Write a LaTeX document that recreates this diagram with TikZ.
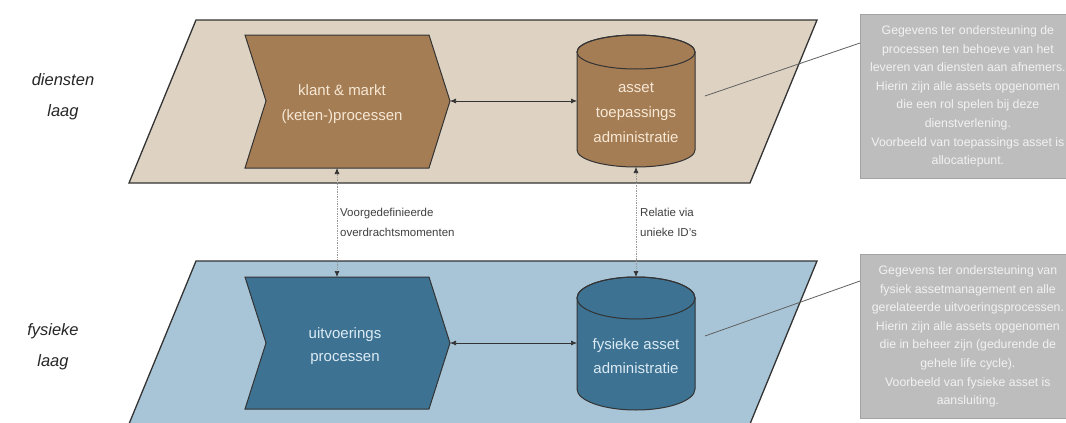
\documentclass[tikz,border=0pt]{standalone}
\usepackage{fontspec}
\setmainfont{Liberation Sans}
\usetikzlibrary{arrows.meta}
\definecolor{beigelayer}{HTML}{DED3C3}
\definecolor{brownshape}{HTML}{A57D55}
\definecolor{browntext}{HTML}{F6E8D4}
\definecolor{bluelayer}{HTML}{A8C5D8}
\definecolor{blueshape}{HTML}{3D7292}
\definecolor{bluetext}{HTML}{DCEBF5}
\definecolor{notefill}{HTML}{BDBDBD}
\definecolor{noteline}{HTML}{A3A3A3}
\definecolor{outl}{HTML}{333333}
\begin{document}
\begin{tikzpicture}[x=1pt,y=-1pt,
  layer/.style={draw=outl, line width=1.3pt},
  shapeline/.style={draw=outl, line width=1pt},
  sidelabel/.style={align=center, font=\itshape\fontsize{16.5}{31}\selectfont, text=black!85},
  shapetext/.style={align=center, font=\fontsize{15}{25}\selectfont, inner sep=0pt},
  conn/.style={draw=outl, line width=0.7pt, {Latex[length=6pt,width=5pt]}-{Latex[length=6pt,width=5pt]}},
  vconn/.style={draw=gray!80, line width=0.7pt, densely dotted, {Latex[length=6pt,width=5pt,fill=outl,color=outl]}-{Latex[length=6pt,width=5pt,fill=outl,color=outl]}},
  vlabel/.style={align=left, anchor=north west, font=\fontsize{11.5}{20}\selectfont, text=black!75, inner sep=0pt},
  callout/.style={draw=gray!75!black, line width=0.8pt},
  notebox/.style={draw=noteline, fill=notefill, line width=0.8pt, minimum width=215pt, minimum height=164pt, anchor=north west, align=center, text=white!95!black, font=\fontsize{12.3}{18.6}\selectfont, inner sep=0pt},
]
\useasboundingbox (0,0) rectangle (1066,423);
\clip (0,0) rectangle (1066,423);
\fill[white] (0,0) rectangle (1066,423);

% layers
\path[layer, fill=beigelayer] (196,20) -- (817,20) -- (750,183) -- (129,183) -- cycle;
\path[layer, fill=bluelayer] (196,261) -- (817,261) -- (743.4,440) -- (122.4,440) -- cycle;

% side labels
\node[sidelabel] (dienstenlaag) at (63,97) {diensten\\laag};
\node[sidelabel] (fysiekelaag) at (53,347) {fysieke\\laag};

% upper chevron
\path[shapeline, fill=brownshape] (245,35) -- (429,35) -- (450,101) -- (429,168) -- (245,168) -- (266,101) -- cycle;
\node[shapetext, text=browntext] (klant) at (342,104) {klant \& markt\\(keten-)processen};
\coordinate (klanttip) at (450,101);
\coordinate (klantbot) at (337,168);

% upper cylinder
\path[shapeline, fill=brownshape] (577,52) -- (577,150) arc[start angle=180, end angle=0, x radius=59, y radius=17] -- (695,52) arc[start angle=0, end angle=-180, x radius=59, y radius=17] -- cycle;
\draw[shapeline] (636,52) ellipse[x radius=59, y radius=17];
\node[shapetext, text=browntext] (toepassing) at (636,113) {asset\\toepassings\\administratie};
\coordinate (toepleft) at (577,101);
\coordinate (toepbot) at (636,167);
\coordinate (toepright) at (705,96);

% lower chevron
\path[shapeline, fill=blueshape] (245,277) -- (429,277) -- (450,343) -- (429,409) -- (245,409) -- (266,343) -- cycle;
\node[shapetext, text=bluetext, font=\fontsize{15}{23}\selectfont] (uitvoering) at (345,346) {uitvoerings\\processen};
\coordinate (uitvtip) at (450,343);
\coordinate (uitvtop) at (337,277);

% lower cylinder
\path[shapeline, fill=blueshape] (577,298) -- (577,389) arc[start angle=180, end angle=0, x radius=59, y radius=21] -- (695,298) arc[start angle=0, end angle=-180, x radius=59, y radius=21] -- cycle;
\draw[shapeline] (636,298) ellipse[x radius=59, y radius=21];
\node[shapetext, text=bluetext, font=\fontsize{15}{24}\selectfont] (fysiekeasset) at (636,356) {fysieke asset\\administratie};
\coordinate (fysleft) at (577,343);
\coordinate (fystop) at (636,277);
\coordinate (fysright) at (705,336);

% connectors
\draw[conn] (klanttip) -- (toepleft);
\draw[conn] (uitvtip) -- (fysleft);
\draw[vconn] (klantbot) -- (uitvtop);
\draw[vconn] (toepbot) -- (fystop);

\node[vlabel] (voorgedef) at (340,208) {Voorgedefinieerde\\overdrachtsmomenten};
\node[vlabel] (relatie) at (640,208) {Relatie via\\unieke ID's};

% notes
\node[notebox] (noteA) at (860,14) {Gegevens ter ondersteuning de\\processen ten behoeve van het\\leveren van diensten aan afnemers.\\Hierin zijn alle assets opgenomen\\die een rol spelen bij deze\\dienstverlening.\\Voorbeeld van toepassings asset is\\allocatiepunt.};
\node[notebox] (noteB) at (860,254) {Gegevens ter ondersteuning van\\fysiek assetmanagement en alle\\gerelateerde uitvoeringsprocessen.\\Hierin zijn alle assets opgenomen\\die in beheer zijn (gedurende de\\gehele life cycle).\\Voorbeeld van fysieke asset is\\aansluiting.};
\coordinate (noteAin) at (860,43);
\coordinate (noteBin) at (860,281);
\draw[callout] (toepright) -- (noteAin);
\draw[callout] (fysright) -- (noteBin);
\end{tikzpicture}
\end{document}
